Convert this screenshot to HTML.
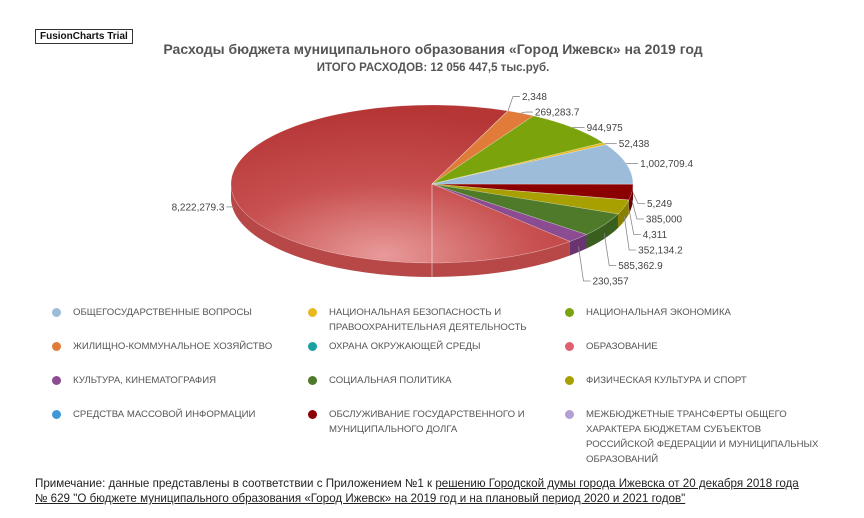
<!DOCTYPE html>
<html><head><meta charset="utf-8">
<style>
body{margin:0;background:#fff;width:864px;height:518px;overflow:hidden;font-family:"Liberation Sans",sans-serif;position:relative}
.trial{position:absolute;left:35px;top:29px;border:1px solid #333;font-size:10px;font-weight:bold;padding:1px 4px;color:#111}
.title{position:absolute;left:0;width:866px;text-align:center;font-weight:bold;color:#555}
.leg{position:absolute;font-size:9.6px;color:#555;line-height:15px;text-transform:uppercase;width:210px}
.ico{position:absolute;width:9px;height:9px;border-radius:50%}
.note{position:absolute;left:35px;top:476px;font-size:11.6px;color:#222;line-height:15px;width:770px}
.note u{color:#222}
</style></head><body>
<div class="trial">FusionCharts Trial</div>
<div class="title" style="top:41px;font-size:14px">Расходы бюджета муниципального образования «Город Ижевск» на 2019 год</div>
<div class="title" style="top:62px;font-size:11.5px">ИТОГО РАСХОДОВ: 12 056 447,5 тыс.руб.</div>
<svg id="pie" width="864" height="300" style="position:absolute;left:0;top:0">
<defs>
<radialGradient id="edu" cx="0.45" cy="0.95" r="0.9">
<stop offset="0" stop-color="#e89a9a"/><stop offset="0.5" stop-color="#c85050"/><stop offset="1" stop-color="#b63636"/>
</radialGradient>
</defs>
</svg>
<div id="legend"></div>
<div class="note">Примечание: данные представлены в соответствии с Приложением №1 к <u>решению Городской думы города Ижевска от 20 декабря 2018 года<br>№ 629 "О бюджете муниципального образования «Город Ижевск» на 2019 год и на плановый период 2020 и 2021 годов"</u></div>
<script>
const categories=["Средства массовой информации","Обслуживание государственного и муниципального долга","Межбюджетные трансферты общего характера бюджетам субъектов Российской Федерации и муниципальных образований","Физическая культура и спорт","Социальная политика","Культура, кинематография","Образование","Охрана окружающей среды","Жилищно-коммунальное хозяйство","Национальная экономика","Национальная безопасность и правоохранительная деятельность","Общегосударственные вопросы"];
const values=[5249,385000,4311,352134.2,585362.9,230357,8222279.3,2348,269283.7,944975,52438,1002709.4];
const valueLabels=["5,249","385,000","4,311","352,134.2","585,362.9","230,357","8,222,279.3","2,348","269,283.7","944,975","52,438","1,002,709.4"];
const colors=["#3e9ad6","#8b0000","#b49fd4","#a8a000","#4e7a2a","#8b4c91","url(#edu)","#1aa0a0","#e07b39","#7ba40c","#e8b820","#9dbcda"];
const wallColors=["#2e7ab0","#6a0000","#9480b4","#888000","#3a5e1e","#6a3470","#b84848","#108080","#b85c26","#5e8008","#c09810","#7d9cba"];
const legendOrder=[11,10,9,8,7,6,5,4,3,0,1,2];
const legendColors=["#9dbcda","#e8b820","#7ba40c","#e07b39","#1aa0a0","#e06070","#8b4c91","#4e7a2a","#a8a000","#3e9ad6","#8b0000","#b49fd4"];
const NS="http://www.w3.org/2000/svg";
const svg=document.getElementById('pie');
const cx=432,cy=184,rx=201,ry=79,depth=14;
const total=values.reduce((a,b)=>a+b,0);
function pt(a,dy){return [cx+rx*Math.cos(a),cy+ry*Math.sin(a)+(dy||0)];}
let ang=0;const slices=[];
values.forEach((v,i)=>{const a0=ang,a1=ang+v/total*2*Math.PI;slices.push([a0,a1]);ang=a1;});
function mk(tag,attrs){const e=document.createElementNS(NS,tag);for(const k in attrs)e.setAttribute(k,attrs[k]);svg.appendChild(e);return e;}
slices.forEach(([a0,a1],i)=>{
  const s=Math.max(a0,0),e=Math.min(a1,Math.PI);
  if(e<=s)return;
  const p0=pt(s),p1=pt(e),q1=pt(e,depth),q0=pt(s,depth);
  const large=(e-s)>Math.PI?1:0;
  const w=mk('path',{d:`M${p0} A${rx},${ry} 0 ${large} 1 ${p1} L${q1} A${rx},${ry} 0 ${large} 0 ${q0} Z`,fill:wallColors[i]});
  
  
});
slices.forEach(([a0,a1],i)=>{
  const p0=pt(a0),p1=pt(a1);const large=(a1-a0)>Math.PI?1:0;
  const p=mk('path',{d:`M${cx},${cy} L${p0} A${rx},${ry} 0 ${large} 1 ${p1} Z`,fill:colors[i],stroke:'rgba(255,255,255,0.35)','stroke-width':0.6});
  
  
});
mk('line',{x1:cx,y1:cy,x2:cx,y2:cy+ry+depth,stroke:'rgba(255,255,255,0.5)','stroke-width':1});
const right=[],left=[];
slices.forEach(([a0,a1],i)=>{const m=(a0+a1)/2;const c=Math.cos(m);const lower=Math.sin(m)>0;const p=pt(m,lower?depth*0.6:0);
 const o={i,m,x:p[0],y:p[1]};(c>=0?right:left).push(o);});
right.sort((a,b)=>a.y-b.y);
const gap=15.5;
let mid=right.findIndex(o=>o.y>cy);
right.forEach(o=>o.ly=o.y);
for(let k=mid;k<right.length;k++){const prev=k>mid?right[k-1].ly:cy+4;if(right[k].ly<prev+gap)right[k].ly=prev+gap;}
for(let k=mid-1;k>=0;k--){const nxt=k<mid-1?right[k+1].ly:cy-4;if(right[k].ly>nxt-gap)right[k].ly=nxt-gap;}
right.forEach(o=>o.ly=Math.max(o.ly,cy-95));
function label(o,side){
  const tx=side>0?o.x+12:o.x-8;
  mk('polyline',{points:`${o.x},${o.y} ${o.x+side*5},${o.ly} ${tx},${o.ly}`,fill:'none',stroke:'#888','stroke-width':0.8});
  const t=mk('text',{x:tx+side*2,y:o.ly+3.5,'font-size':10,fill:'#444','text-anchor':side>0?'start':'end','font-family':'Liberation Sans, sans-serif'});
  t.textContent=valueLabels[o.i];
  
  
}
right.forEach(o=>label(o,1));
left.forEach(o=>{o.ly=o.y;label(o,-1);});
const lg=document.getElementById('legend');
const colX=[52,308,565],rowY=[305,339,373,407];
legendOrder.forEach((idx,k)=>{
  const col=k%3,row=Math.floor(k/3);
  const ic=document.createElement('div');ic.className='ico';
  ic.style.left=colX[col]+'px';ic.style.top=(rowY[row]+3)+'px';ic.style.background=legendColors[k];
  
  
  lg.appendChild(ic);
  const d=document.createElement('div');d.className='leg';
  d.style.left=(colX[col]+21)+'px';d.style.top=rowY[row]+'px';d.textContent=categories[idx];
  if(col==2)d.style.width='245px';
  
  
  lg.appendChild(d);
});
</script>
</body></html>
